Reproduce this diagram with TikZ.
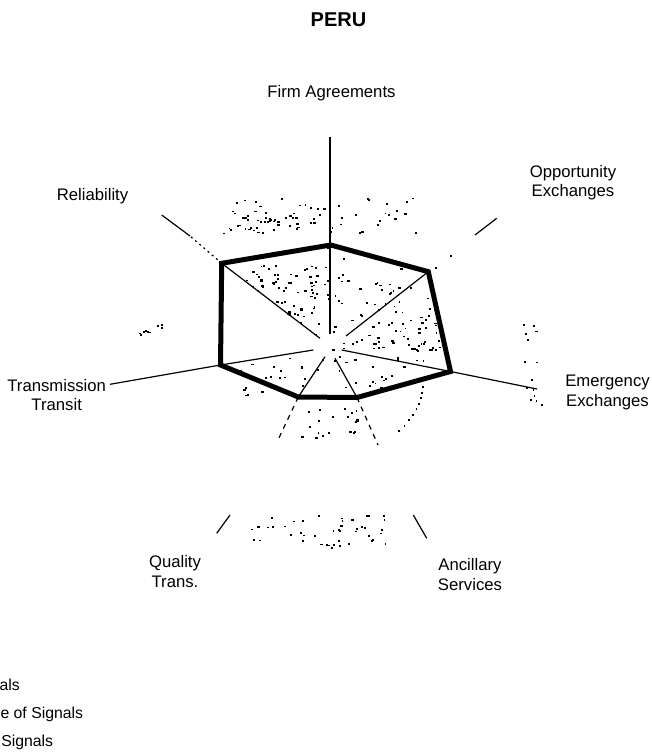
\documentclass[tikz,border=0pt]{standalone}
\usepackage{fontspec}
\setmainfont{Liberation Sans}
\usetikzlibrary{calc}
\tikzset{
  lbl/.style={font=\fontsize{16.7}{20}\selectfont, inner sep=0pt, anchor=base},
  legendtext/.style={font=\fontsize{15.8}{19}\selectfont, inner sep=0pt, anchor=base east},
  titletext/.style={font=\bfseries\fontsize{20}{24}\selectfont, inner sep=0pt, anchor=base},
  spoke/.style={line width=1.2pt, black},
  faintspoke/.style={line width=1.2pt, black, dash pattern=on 2pt off 3.5pt},
  dashspoke/.style={line width=1.2pt, black, dash pattern=on 5pt off 5pt},
  series/.style={line width=5pt, black, line join=miter},
  speck/.style={black}
}
% scatter small specks in a box: x0, y0, width, height, count
\newcommand\scatterdots[5]{%
  \foreach \k in {1,...,#5}{%
    \pgfmathsetmacro\sx{#1+#3*rnd}%
    \pgfmathsetmacro\sy{#2+#4*rnd}%
    \pgfmathsetmacro\sw{1.5+1.2*rnd}%
    \fill[speck] (\sx,\sy) rectangle ++(\sw,1.8);
  }}
\begin{document}
\begin{tikzpicture}[x=1pt,y=-1pt]
\useasboundingbox (0,0) rectangle (652,752);
\pgfmathsetseed{4711}

% chart centre and axis points
\coordinate (C) at (330,347.5);
% Firm Agreements
\coordinate (Fin) at (330,334);   \coordinate (F) at (330.7,245);  \coordinate (Fout) at (330,137);
% Opportunity Exchanges
\coordinate (Oin) at (346,336);   \coordinate (O) at (428.3,271.7); \coordinate (Omid) at (475,235); \coordinate (Oout) at (496.7,218.3);
% Emergency Exchanges
\coordinate (Ein) at (341.7,350); \coordinate (E) at (450.5,371.5); \coordinate (Eout) at (537,389);
% Ancillary Services
\coordinate (Ain) at (335,358.3); \coordinate (A) at (357,397.5);  \coordinate (Amid) at (378,445); \coordinate (Aseg) at (413.3,515); \coordinate (Aout) at (426.7,538.3);
% Quality Trans.
\coordinate (Qin) at (325,356.7); \coordinate (Q) at (298.3,397);  \coordinate (Qmid) at (277,442); \coordinate (Qseg) at (230,515); \coordinate (Qout) at (216.7,533.3);
% Transmission Transit
\coordinate (Tin) at (313.3,350); \coordinate (T) at (220.5,365);  \coordinate (Tout) at (110,384.3);
% Reliability
\coordinate (Rin) at (320,338.3); \coordinate (R) at (221.7,263.3); \coordinate (Rmid) at (190,236); \coordinate (Rout) at (161.7,215);

% speckled light areas
\begin{scope}
  \clip (C) -- (R) -- (F) -- (O) -- (E) -- (A) -- (Q) -- (T) -- cycle;
  \scatterdots{222}{247}{230}{150}{160}
  \scatterdots{250}{265}{70}{60}{60}
  \scatterdots{360}{300}{80}{60}{45}
\end{scope}
\scatterdots{215}{197}{202}{36}{55}
\scatterdots{240}{210}{65}{22}{25}
\scatterdots{138}{322}{27}{13}{9}
\scatterdots{523}{320}{22}{85}{14}
\scatterdots{250}{515}{140}{33}{45}
\scatterdots{300}{402}{60}{40}{20}
\scatterdots{243}{386}{20}{10}{6}
\foreach \t in {0,0.12,...,1.0}{
  \fill[speck] ($(421.7,386)!\t!(396.7,432)+({6*sin(180*\t)},0)$) rectangle ++(1.8,2.2);
}

% axes
\draw[spoke] (Fin) -- (Fout);
\draw[spoke] (Oin) -- (O);
\draw[spoke] (Omid) -- (Oout);
\fill[speck] (435,266.7) rectangle ++(1.8,1.8);
\fill[speck] (450,255) rectangle ++(1.8,1.8);
\draw[spoke] (Ein) -- (E) -- (Eout);
\draw[spoke] (Ain) -- (A);
\draw[dashspoke] (A) -- (Amid);
\draw[spoke] (Aseg) -- (Aout);
\draw[spoke] (Qin) -- (Q);
\draw[dashspoke] (Q) -- (Qmid);
\draw[spoke] (Qseg) -- (Qout);
\draw[spoke] (Tin) -- (T) -- (Tout);
\draw[spoke] (Rin) -- (R);
\draw[faintspoke] (R) -- (Rmid);
\draw[spoke] (Rmid) -- (Rout);

% data series
\draw[series] (F) -- (O) -- (E) -- (A) -- (Q) -- (T) -- (R) -- cycle;

% title and axis labels
\node[titletext] (title) at (338.5,27) {PERU};
\node[lbl] (firm) at (331.5,97.3) {Firm Agreements};
\node[lbl] (opp1) at (573,177.7) {Opportunity};
\node[lbl] (opp2) at (573,196.7) {Exchanges};
\node[lbl] (emg1) at (607.5,386.7) {Emergency};
\node[lbl] (emg2) at (607.5,406.2) {Exchanges};
\node[lbl] (anc1) at (470,570.7) {Ancillary};
\node[lbl] (anc2) at (470,590.7) {Services};
\node[lbl] (qua1) at (175,567) {Quality};
\node[lbl] (qua2) at (175,587) {Trans.};
\node[lbl] (tra1) at (56.7,391.7) {Transmission};
\node[lbl] (tra2) at (56.7,410) {Transit};
\node[lbl] (rel) at (92.5,200) {Reliability};

% legend entries
\node[legendtext] (leg1) at (20,690.7) {als};
\node[legendtext] (leg2) at (83.3,718.3) {e of Signals};
\node[legendtext] (leg3) at (53.3,746.7) {Signals};
\end{tikzpicture}
\end{document}
